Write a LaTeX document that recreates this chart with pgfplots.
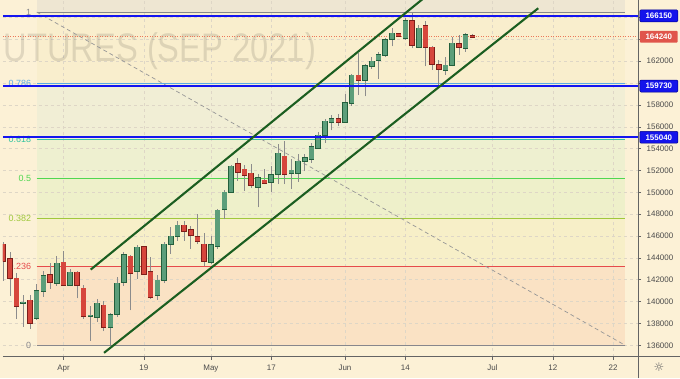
\documentclass[border=0pt]{standalone}
\usepackage{fontspec}
\setmainfont{Liberation Sans}
\newfontfamily\djv{DejaVu Sans}
\usepackage{graphicx}
\usepackage{pgfplots}
\usepackage{pgfplotstable}
\pgfplotsset{compat=1.18}

\definecolor{bgc}{RGB}{252,241,214}
\definecolor{zA}{RGB}{238,230,210}
\definecolor{zB}{RGB}{249,238,205}
\definecolor{zC}{RGB}{241,238,213}
\definecolor{zD}{RGB}{238,240,208}
\definecolor{zE}{RGB}{238,240,202}
\definecolor{zF}{RGB}{247,239,200}
\definecolor{zG}{RGB}{250,226,196}
\definecolor{gridc}{RGB}{222,214,198}
\definecolor{axc}{RGB}{100,100,100}
\definecolor{labc}{RGB}{75,75,75}
\definecolor{fgray}{RGB}{135,135,140}
\definecolor{f786}{RGB}{90,170,230}
\definecolor{f618}{RGB}{50,195,160}
\definecolor{f500}{RGB}{80,215,80}
\definecolor{f382}{RGB}{160,200,60}
\definecolor{f236}{RGB}{230,75,75}
\definecolor{blueL}{RGB}{20,20,240}
\definecolor{blueB}{RGB}{20,20,235}
\definecolor{blueE}{RGB}{0,0,140}
\definecolor{redB}{RGB}{224,85,75}
\definecolor{curc}{RGB}{235,120,90}
\definecolor{chan}{RGB}{27,94,32}
\definecolor{dashc}{RGB}{150,150,150}
\definecolor{gfill}{RGB}{92,158,122}
\definecolor{gedge}{RGB}{35,95,60}
\definecolor{rfill}{RGB}{214,70,60}
\definecolor{redge}{RGB}{125,30,25}
\definecolor{wick}{RGB}{140,140,140}

% rising candles: index, open, high, low, close
\pgfplotstableread{
i o h l c
-6 139850 140620 137710 139920
-4 138460 141620 138300 141010
-3 140960 142810 140420 142380
-1 141720 144180 141470 143510
1 141560 142990 141410 142690
4 138640 139620 136430 138740
5 138570 140260 138160 139830
7 137680 138980 136000 138800
8 138890 142240 138590 141700
9 141830 144510 141470 144270
11 142810 145200 142110 144970
14 140560 142400 140170 141960
15 141990 145430 141690 145270
16 145240 146870 144360 146000
17 145980 147400 145570 147000
22 143660 146030 143450 145210
23 145060 148460 144820 148370
24 148460 150180 147550 150010
25 150010 152470 149970 152410
29 150530 151650 148620 151350
31 150990 152410 150040 151590
32 151650 154390 150740 153570
34 151770 153020 150290 152040
35 151810 153480 150950 152860
36 152860 153540 151950 153170
37 153020 154540 152720 154180
38 154090 155480 154000 155210
39 155240 156670 154540 156510
40 156480 157120 155660 156730
42 156420 159040 156370 158190
43 158190 160860 157940 160700
45 160310 161770 158790 161590
46 161530 162350 161290 161980
47 162140 162890 160400 162590
48 162530 164110 162380 163960
49 164020 165030 163350 164570
51 164170 165960 163960 165690
53 163290 165330 163200 165030
57 161220 162380 160770 161650
58 161680 164260 161530 163660
60 163200 164570 162890 164410
}\up

% falling candles: index, open, high, low, close
\pgfplotstableread{
i o h l c
-9 145270 145450 141930 143750
-8 143900 144540 140530 142130
-7 142130 142630 138390 139590
-5 140100 140620 137520 138040
-2 142450 143540 141170 141780
0 143600 144660 141400 141550
2 142690 142840 140300 141530
3 141200 141530 138430 138660
6 139680 140080 137290 137710
10 144150 144270 139190 142610
12 145040 145120 142400 142510
13 142750 144090 140260 140410
18 147000 147350 145570 146430
19 146570 146880 144840 146090
20 145950 148010 145270 145570
21 145270 146300 143290 143720
26 152630 153170 151040 151860
27 152110 152470 150130 151590
28 151740 152560 150440 150650
30 151110 152110 150740 150900
33 153320 154690 150740 151720
41 156730 157210 156060 156460
44 160700 162770 158950 160310
50 164510 164600 164230 164350
52 165690 166390 163200 163440
54 165240 165720 161530 163290
55 163260 163350 161220 161770
56 161680 162140 159650 161290
59 163590 164410 162590 163290
61 164320 164500 164110 164240
}\down

\begin{document}
\pagecolor{bgc}
\begin{tikzpicture}
\path (0,0) rectangle (680pt,380pt);
\begin{axis}[
  at={(0pt,22pt)}, anchor=south west,
  scale only axis, width=638pt, height=358pt,
  xmin=-9.06, xmax=85.74, ymin=134970, ymax=167605,
  set layers,
  axis background/.style={fill=bgc},
  axis line style={draw=none},
  xtick={0,12,22,31,42,51,64,73,82},
  xticklabels={Apr,19,May,17,Jun,14,Jul,12,22},
  ytick={136000,138000,140000,142000,144000,146000,148000,150000,152000,154000,156000,158000,160000,162000,164000,166000},
  yticklabels={136000,138000,140000,142000,144000,146000,148000,150000,152000,154000,156000,158000,{},162000,{},{}},
  scaled y ticks=false,
  yticklabel pos=right, ytick pos=right, xtick pos=bottom,
  tick align=outside, major tick length=3pt,
  xtick style={draw=axc, line width=0.5pt},
  ytick style={draw=axc, line width=0.5pt},
  grid=major,
  major grid style={draw=gridc, dash pattern=on 3pt off 3pt, line width=0.5pt},
  tick label style={font=\fontsize{8}{9}\selectfont, text=labc},
  yticklabel style={anchor=west, xshift=2pt},
  xticklabel style={yshift=-1.5pt},
  clip=true,
]
% Fibonacci zones
\addplot[on layer=axis background, fill=zA, draw=none] coordinates {(-4.0,166500) (83.8,166500) (83.8,167605) (-4.0,167605)};
\addplot[on layer=axis background, fill=zB, draw=none] coordinates {(-4.0,159973) (83.8,159973) (83.8,166500) (-4.0,166500)};
\addplot[on layer=axis background, fill=zC, draw=none] coordinates {(-4.0,154849) (83.8,154849) (83.8,159973) (-4.0,159973)};
\addplot[on layer=axis background, fill=zD, draw=none] coordinates {(-4.0,151250) (83.8,151250) (83.8,154849) (-4.0,154849)};
\addplot[on layer=axis background, fill=zE, draw=none] coordinates {(-4.0,147651) (83.8,147651) (83.8,151250) (-4.0,151250)};
\addplot[on layer=axis background, fill=zF, draw=none] coordinates {(-4.0,143198) (83.8,143198) (83.8,147651) (-4.0,147651)};
\addplot[on layer=axis background, fill=zG, draw=none] coordinates {(-4.0,136000) (83.8,136000) (83.8,143198) (-4.0,143198)};

% watermark
\node[anchor=base east, text=black, text opacity=0.11, font=\fontsize{40}{40}\selectfont] at (axis cs:38.19,161950) {\scalebox{0.82}[1]{FUTURES (SEP 2021)}};

% Fibonacci lines
\addplot[fgray, line width=1pt] coordinates {(-4.0,166500) (83.8,166500)};
\addplot[f786, line width=0.9pt] coordinates {(-4.0,159973) (83.8,159973)};
\addplot[f618, line width=0.9pt] coordinates {(-4.0,154849) (83.8,154849)};
\addplot[f500, line width=0.9pt] coordinates {(-4.0,151250) (83.8,151250)};
\addplot[f382, line width=0.9pt] coordinates {(-4.0,147651) (83.8,147651)};
\addplot[f236, line width=0.9pt] coordinates {(-4.0,143198) (83.8,143198)};
\addplot[fgray, line width=1pt] coordinates {(-4.0,136000) (83.8,136000)};
\addplot[dashc, dash pattern=on 4pt off 3pt, line width=0.7pt] coordinates {(-4.0,166500) (83.8,136000)};

\node[anchor=east, text=fgray, font=\fontsize{9}{9}\selectfont] at (axis cs:-4.3,166500) {1};
\node[anchor=east, text=f786, font=\fontsize{9}{9}\selectfont] at (axis cs:-4.3,159973) {0.786};
\node[anchor=east, text=f618, font=\fontsize{9}{9}\selectfont] at (axis cs:-4.3,154849) {0.618};
\node[anchor=east, text=f500, font=\fontsize{9}{9}\selectfont] at (axis cs:-4.3,151250) {0.5};
\node[anchor=east, text=f382, font=\fontsize{9}{9}\selectfont] at (axis cs:-4.3,147651) {0.382};
\node[anchor=east, text=f236, font=\fontsize{9}{9}\selectfont] at (axis cs:-4.3,143198) {0.236};
\node[anchor=east, text=fgray, font=\fontsize{9}{9}\selectfont] at (axis cs:-4.3,136000) {0};

% current price dotted
\addplot[curc, dash pattern=on 1pt off 1.5pt, line width=0.6pt] coordinates {(-9.06,164240) (85.74,164240)};

% wicks
\addplot[draw=none, mark=none, forget plot, error bars/.cd, y dir=plus, y explicit, error mark=none,
  error bar style={draw=wick, line width=0.7pt}]
  table[x=i, y=l, y error plus expr=\thisrow{h}-\thisrow{l}] {\up};
\addplot[draw=none, mark=none, forget plot, error bars/.cd, y dir=plus, y explicit, error mark=none,
  error bar style={draw=wick, line width=0.7pt}]
  table[x=i, y=l, y error plus expr=\thisrow{h}-\thisrow{l}] {\down};
% bodies: outline then fill
\addplot[draw=none, mark=none, forget plot, error bars/.cd, y dir=both, y explicit, error mark=none,
  error bar style={draw=gedge, line width=5.6pt}]
  table[x=i, y=o, y error minus expr=45, y error plus expr=\thisrow{c}-\thisrow{o}+45] {\up};
\addplot[draw=none, mark=none, forget plot, error bars/.cd, y dir=plus, y explicit, error mark=none,
  error bar style={draw=gfill, line width=4.4pt}]
  table[x=i, y=o, y error plus expr=\thisrow{c}-\thisrow{o}] {\up};
\addplot[draw=none, mark=none, forget plot, error bars/.cd, y dir=both, y explicit, error mark=none,
  error bar style={draw=redge, line width=5.6pt}]
  table[x=i, y=c, y error minus expr=45, y error plus expr=\thisrow{o}-\thisrow{c}+45] {\down};
\addplot[draw=none, mark=none, forget plot, error bars/.cd, y dir=plus, y explicit, error mark=none,
  error bar style={draw=rfill, line width=4.4pt}]
  table[x=i, y=c, y error plus expr=\thisrow{o}-\thisrow{c}] {\down};

% horizontal key levels
\addplot[blueL, line width=1.6pt] coordinates {(-9.06,166150) (85.74,166150)};
\addplot[blueL, line width=1.6pt] coordinates {(-9.06,159730) (85.74,159730)};
\addplot[blueL, line width=1.6pt] coordinates {(-9.06,155040) (85.74,155040)};

% channel
\addplot[chan, line width=2.1pt] coordinates {(4.06,142930) (55,168400)};
\addplot[chan, line width=2.1pt] coordinates {(6.05,135310) (70.83,166850)};

\coordinate (pA) at (axis cs:85.74,166150);
\coordinate (pB) at (axis cs:85.74,164240);
\coordinate (pC) at (axis cs:85.74,159730);
\coordinate (pD) at (axis cs:85.74,155040);
\end{axis}
\draw[axc, line width=0.7pt] (638pt,0pt) -- (638pt,380pt);
\draw[axc, line width=0.7pt] (0pt,22pt) -- (680pt,22pt);
\tikzset{pbox/.style={anchor=west, xshift=1.5pt, minimum width=38pt, minimum height=12pt, inner sep=1pt, rounded corners=1pt, text=white, font=\bfseries\fontsize{8}{8}\selectfont}}
\node[pbox, fill=blueB, draw=blueE, line width=0.5pt] at (pA) {166150};
\node[pbox, fill=redB] at (pB) {164240};
\node[pbox, fill=blueB, draw=blueE, line width=0.5pt] at (pC) {159730};
\node[pbox, fill=blueB, draw=blueE, line width=0.5pt] at (pD) {155040};
\node[text=axc, font=\djv\fontsize{12}{12}\selectfont] at (659pt,11pt) {☼};
\pgfresetboundingbox
\path[use as bounding box] (0pt,0pt) rectangle (680pt,380pt);
\end{tikzpicture}
\end{document}
